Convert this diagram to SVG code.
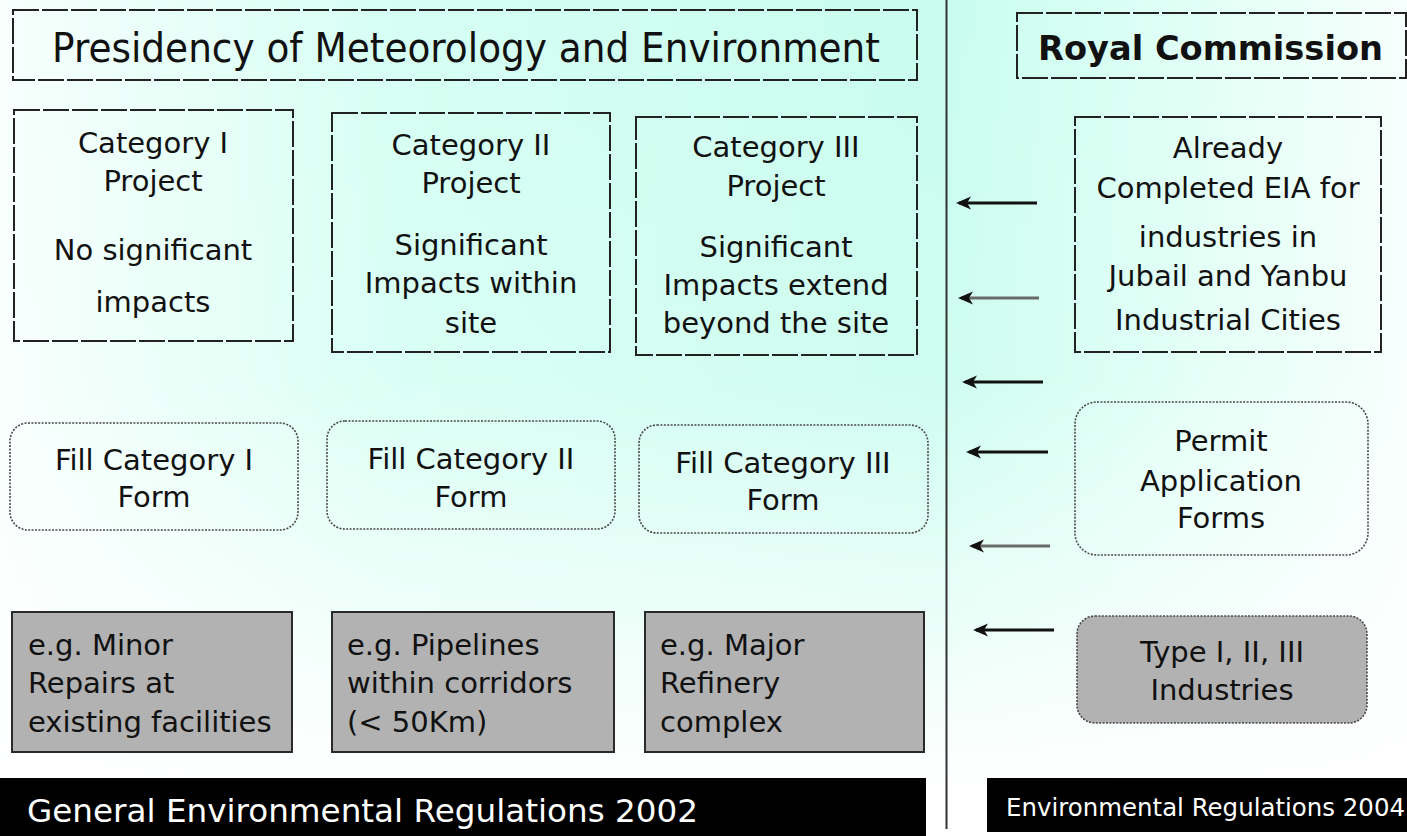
<svg xmlns="http://www.w3.org/2000/svg" width="1407" height="836" viewBox="0 0 1407 836">
<defs>
<linearGradient id="bgH" x1="0" y1="0" x2="1407" y2="0" gradientUnits="userSpaceOnUse">
<stop offset="0" stop-color="#f7fffd"/>
<stop offset="0.28" stop-color="#d6fff3"/>
<stop offset="0.67" stop-color="#c9fdee"/>
<stop offset="0.8" stop-color="#dafff4"/>
<stop offset="1" stop-color="#f6fffc"/>
</linearGradient>
<linearGradient id="bgV" x1="0" y1="0" x2="0" y2="836" gradientUnits="userSpaceOnUse">
<stop offset="0" stop-color="#ffffff" stop-opacity="0"/>
<stop offset="0.45" stop-color="#ffffff" stop-opacity="0.1"/>
<stop offset="0.95" stop-color="#ffffff" stop-opacity="1"/>
</linearGradient>
<marker id="ah" markerWidth="16" markerHeight="14" refX="12" refY="7" orient="auto" markerUnits="userSpaceOnUse">
<path d="M0,0.5 L15,7 L0,13.5 L4,7 Z" fill="#111"/>
</marker>
</defs>
<style>
.t{font-family:"DejaVu Sans","Liberation Sans",sans-serif;font-size:29px;fill:#111;}
.h1{font-family:"DejaVu Sans","Liberation Sans",sans-serif;font-size:40px;fill:#111;}
.h2{font-family:"DejaVu Sans","Liberation Sans",sans-serif;font-size:34px;font-weight:bold;fill:#111;}
.c{text-anchor:middle;}
.dash{fill:none;stroke:#222;stroke-width:2;stroke-dasharray:26 3;}
.dot{fill:none;stroke:#4a4a4a;stroke-width:1.6;stroke-dasharray:2 1.4;}
.gray{fill:#b2b2b2;stroke:#2a2a2a;stroke-width:2;}
.grayr{fill:#b2b2b2;stroke:#4a4a4a;stroke-width:1.6;stroke-dasharray:2 1.4;}
.arr{stroke:#111;stroke-width:3;fill:none;}
.arrg{stroke:#6a6a6a;stroke-width:3;fill:none;}
.w1{fill:#fff;font-family:"DejaVu Sans","Liberation Sans",sans-serif;font-size:32px;}
.w2{fill:#fff;font-family:"DejaVu Sans","Liberation Sans",sans-serif;font-size:24px;}
</style>
<rect x="0" y="0" width="1407" height="836" fill="url(#bgH)"/>
<rect x="0" y="0" width="1407" height="836" fill="url(#bgV)"/>
<line x1="946.5" y1="0" x2="946.5" y2="829" stroke="#333" stroke-width="2"/>

<g id="header-pme">
<rect class="dash" x="13" y="10" width="904" height="70"/>
<text class="h1" x="52" y="62" textLength="828" lengthAdjust="spacingAndGlyphs">Presidency of Meteorology and Environment</text>
</g>
<g id="header-rc">
<rect class="dash" x="1017" y="13" width="389" height="65"/>
<text class="h2" x="1038" y="60" textLength="345" lengthAdjust="spacingAndGlyphs">Royal Commission</text>
</g>

<g id="cat1">
<rect class="dash" x="14" y="110" width="279" height="231"/>
<text class="t c" x="153" y="153">Category I</text>
<text class="t c" x="153" y="191">Project</text>
<text class="t c" x="153" y="260">No significant</text>
<text class="t c" x="153" y="312">impacts</text>
</g>
<g id="cat2">
<rect class="dash" x="332" y="113" width="278" height="239"/>
<text class="t c" x="471" y="155">Category II</text>
<text class="t c" x="471" y="193">Project</text>
<text class="t c" x="471" y="255">Significant</text>
<text class="t c" x="471" y="293">Impacts within</text>
<text class="t c" x="471" y="333">site</text>
</g>
<g id="cat3">
<rect class="dash" x="636" y="117" width="281" height="238"/>
<text class="t c" x="776" y="157">Category III</text>
<text class="t c" x="776" y="196">Project</text>
<text class="t c" x="776" y="257">Significant</text>
<text class="t c" x="776" y="295">Impacts extend</text>
<text class="t c" x="776" y="333">beyond the site</text>
</g>
<g id="already">
<rect class="dash" x="1075" y="117" width="306" height="235"/>
<text class="t c" x="1228" y="158">Already</text>
<text class="t c" x="1228" y="198">Completed EIA for</text>
<text class="t c" x="1228" y="247">industries in</text>
<text class="t c" x="1228" y="286">Jubail and Yanbu</text>
<text class="t c" x="1228" y="330">Industrial Cities</text>
</g>

<g id="fill1">
<rect class="dot" x="10" y="423" width="288" height="107" rx="18"/>
<text class="t c" x="154" y="470">Fill Category I</text>
<text class="t c" x="154" y="507">Form</text>
</g>
<g id="fill2">
<rect class="dot" x="327" y="421" width="288" height="108" rx="18"/>
<text class="t c" x="471" y="469">Fill Category II</text>
<text class="t c" x="471" y="507">Form</text>
</g>
<g id="fill3">
<rect class="dot" x="639" y="425" width="289" height="108" rx="18"/>
<text class="t c" x="783" y="473">Fill Category III</text>
<text class="t c" x="783" y="510">Form</text>
</g>
<g id="permit">
<rect class="dot" x="1075" y="402" width="293" height="153" rx="22"/>
<text class="t c" x="1221" y="451">Permit</text>
<text class="t c" x="1221" y="491">Application</text>
<text class="t c" x="1221" y="528">Forms</text>
</g>

<g id="eg1">
<rect class="gray" x="12" y="612" width="280" height="140"/>
<text class="t" x="28" y="655">e.g. Minor</text>
<text class="t" x="28" y="693">Repairs at</text>
<text class="t" x="28" y="732">existing facilities</text>
</g>
<g id="eg2">
<rect class="gray" x="332" y="612" width="282" height="140"/>
<text class="t" x="347" y="655">e.g. Pipelines</text>
<text class="t" x="347" y="693">within corridors</text>
<text class="t" x="347" y="732">(&lt; 50Km)</text>
</g>
<g id="eg3">
<rect class="gray" x="645" y="612" width="279" height="140"/>
<text class="t" x="660" y="655">e.g. Major</text>
<text class="t" x="660" y="693">Refinery</text>
<text class="t" x="660" y="732">complex</text>
</g>
<g id="types">
<rect class="grayr" x="1077" y="616" width="290" height="107" rx="18"/>
<text class="t c" x="1222" y="662">Type I, II, III</text>
<text class="t c" x="1222" y="700">Industries</text>
</g>

<g id="footer-left">
<rect x="0" y="778" width="926" height="58" fill="#000"/>
<text class="w1" x="27" y="822" textLength="671" lengthAdjust="spacingAndGlyphs">General Environmental Regulations 2002</text>
</g>
<g id="footer-right">
<rect x="987" y="778" width="420" height="54" fill="#000"/>
<text class="w2" x="1006" y="816" textLength="399" lengthAdjust="spacingAndGlyphs">Environmental Regulations 2004</text>
</g>

<g id="connectors">
<line class="arr" x1="1037" y1="203" x2="959" y2="203" marker-end="url(#ah)"/>
<line class="arrg" x1="1039" y1="298" x2="961" y2="298" marker-end="url(#ah)"/>
<line class="arr" x1="1043" y1="382" x2="965" y2="382" marker-end="url(#ah)"/>
<line class="arr" x1="1048" y1="452" x2="969" y2="452" marker-end="url(#ah)"/>
<line class="arrg" x1="1050" y1="546" x2="972" y2="546" marker-end="url(#ah)"/>
<line class="arr" x1="1054" y1="630" x2="976" y2="630" marker-end="url(#ah)"/>
</g>
</svg>
